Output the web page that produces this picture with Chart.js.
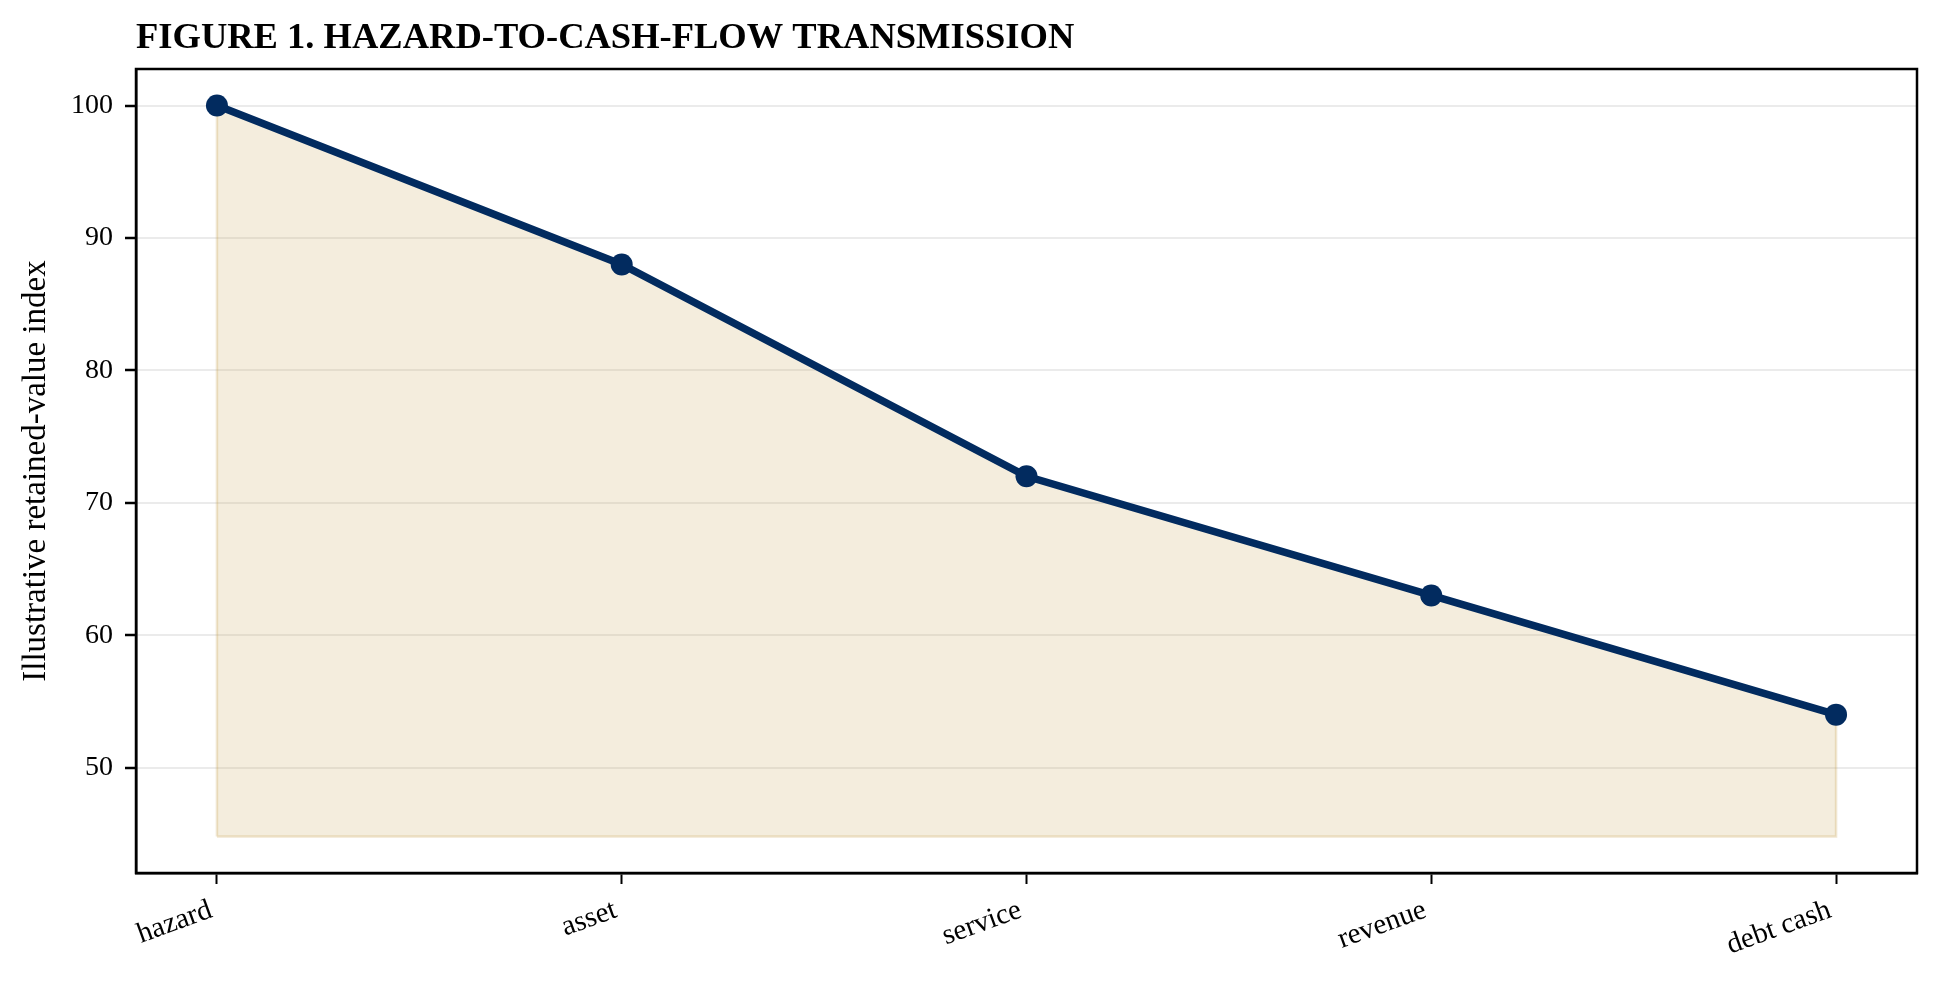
<!DOCTYPE html>
<html>
<head>
<meta charset="utf-8">
<script src="https://cdn.jsdelivr.net/npm/chart.js@4.4.1/dist/chart.umd.min.js"></script>
<style>
  html, body { margin: 0; padding: 0; background: #fff; }
  #wrap { width: 1939px; height: 983px; }
</style>
</head>
<body>
<div id="wrap"><canvas id="grafico" width="1939" height="983"></canvas></div>
<script>
// dados
const etapas = ["hazard", "asset", "service", "revenue", "debt cash"];
const indice = [100, 88, 72, 63, 54];
const ticksY = [50, 60, 70, 80, 90, 100];
const baseArea = 44.8;

const titulo = "FIGURE 1. HAZARD-TO-CASH-FLOW TRANSMISSION";
const rotuloY = "Illustrative retained-value index";

const corLinha = "#022b5f";
const corArea = "rgba(200,164,86,0.2)";
const corBorda = "rgba(200,164,86,0.28)";
const fonte = "'Liberation Serif', 'Times New Roman', serif";

// limites no estilo matplotlib (margem de 5%)
const yMin = baseArea - 0.05 * (100 - baseArea);
const yMax = 100 + 0.05 * (100 - baseArea);
const xMin = -0.05 * (etapas.length - 1);
const xMax = (etapas.length - 1) * 1.05;

const pontos = indice.map((v, i) => ({ x: i, y: v }));
// contorno da area preenchida
const contorno = [{ x: 0, y: baseArea }, ...pontos, { x: indice.length - 1, y: baseArea }, { x: 0, y: baseArea }];

const pluginMoldura = {
  id: "moldura",
  afterDraw(chart) {
    const { ctx, chartArea } = chart;
    ctx.save();
    ctx.strokeStyle = "#000";
    ctx.lineWidth = 2.5;
    ctx.strokeRect(chartArea.left, chartArea.top, chartArea.right - chartArea.left, chartArea.bottom - chartArea.top);
    ctx.fillStyle = "#000";
    ctx.font = "bold 36.5px " + fonte;
    ctx.textBaseline = "alphabetic";
    ctx.textAlign = "left";
    ctx.fillText(titulo, chartArea.left, 48);
    ctx.restore();
  }
};

const ctx = document.getElementById("grafico").getContext("2d");
new Chart(ctx, {
  type: "line",
  data: {
    datasets: [
      {
        data: pontos,
        borderColor: corLinha,
        borderWidth: 7.5,
        pointRadius: 11,
        pointBackgroundColor: corLinha,
        pointBorderWidth: 0,
        pointHoverRadius: 11,
        backgroundColor: corArea,
        fill: { value: baseArea },
        tension: 0,
        order: 0
      },
      {
        data: contorno,
        borderColor: corBorda,
        borderWidth: 2.5,
        pointRadius: 0,
        fill: false,
        tension: 0,
        order: 1
      }
    ]
  },
  options: {
    responsive: false,
    devicePixelRatio: 1,
    animation: false,
    events: [],
    layout: { padding: { top: 69, right: 22, bottom: 0, left: 0 } },
    plugins: {
      legend: { display: false },
      tooltip: { enabled: false },
      title: { display: false }
    },
    scales: {
      x: {
        type: "linear",
        min: xMin,
        max: xMax,
        afterBuildTicks: (s) => { s.ticks = etapas.map((_, i) => ({ value: i })); },
        afterFit: (s) => { s.height = 110; },
        grid: { drawOnChartArea: false, drawTicks: true, tickLength: 11, tickColor: "#000", tickWidth: 2 },
        border: { display: true, color: "#000", width: 2.5 },
        ticks: {
          autoSkip: false,
          minRotation: 20,
          maxRotation: 20,
          padding: 9,
          labelOffset: -6,
          color: "#000",
          font: { family: fonte, size: 29 },
          callback: (v) => etapas[v]
        }
      },
      y: {
        min: yMin,
        max: yMax,
        afterBuildTicks: (s) => { s.ticks = ticksY.map(v => ({ value: v })); },
        afterFit: (s) => { s.width = 136; },
        grid: { color: "#ebebeb", lineWidth: 2, drawTicks: true, tickLength: 11, tickColor: "#000", tickWidth: 2.5 },
        border: { display: true, color: "#000", width: 2.5 },
        ticks: {
          padding: 12,
          color: "#000",
          font: { family: fonte, size: 28 }
        },
        title: {
          display: true,
          text: rotuloY,
          color: "#000",
          font: { family: fonte, size: 33 },
          padding: { top: 17, bottom: 0 }
        }
      }
    }
  },
  plugins: [pluginMoldura]
});
</script>
</body>
</html>
